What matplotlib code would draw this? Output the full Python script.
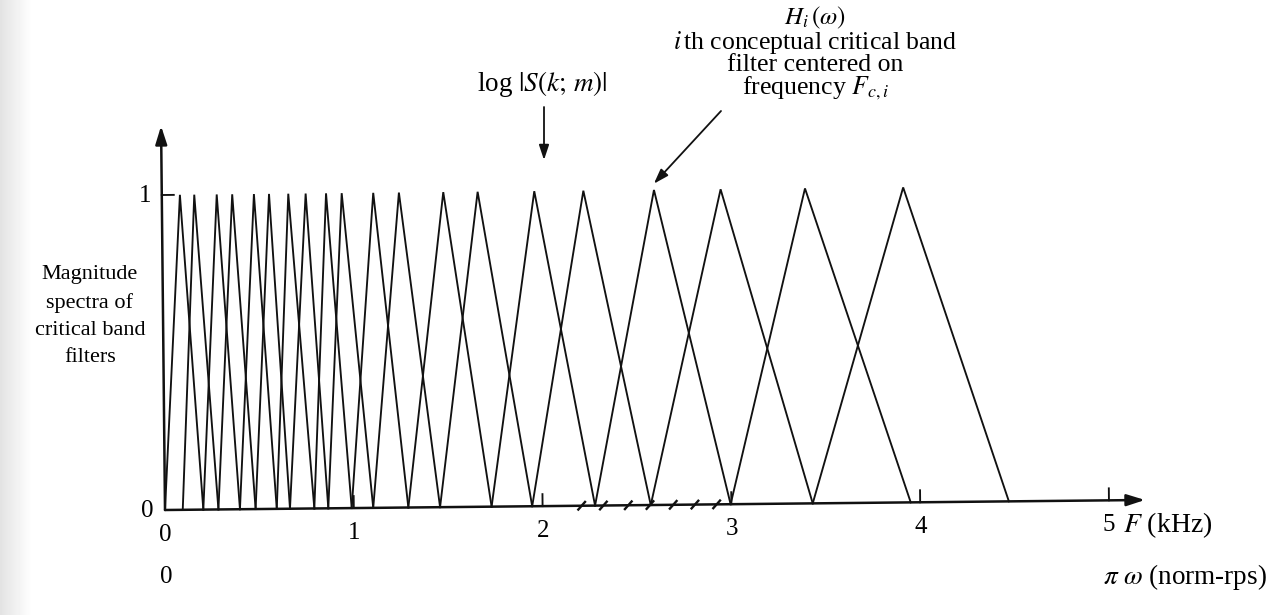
import matplotlib
matplotlib.use("Agg")
import matplotlib.pyplot as plt
import numpy as np
from matplotlib.transforms import Affine2D

plt.rcParams['font.family'] = ['Liberation Serif', 'DejaVu Serif']
plt.rcParams['mathtext.fontset'] = 'stix'

# Centre frequencies (kHz) of the critical-band filters H_i
center_khz = [0.096, 0.172, 0.291, 0.373, 0.488, 0.568, 0.670, 0.762, 0.870, 0.953,
              1.120, 1.256, 1.491, 1.673, 1.973, 2.233, 2.607, 2.960, 3.407, 3.927]
# Zero points (kHz): filter i rises from edge_khz[i] and falls to edge_khz[i + 2]
edge_khz = [0.0, 0.094, 0.203, 0.283, 0.397, 0.480, 0.592, 0.662, 0.791, 0.865,
            0.989, 1.103, 1.289, 1.457, 1.730, 1.945, 2.278, 2.573, 2.996, 3.431,
            3.950, 4.470]
peak_gain = 1.0
# DFT bins of log|S(k; m)| marked on the frequency axis (kHz)
bin_khz = [2.207, 2.322, 2.454, 2.569, 2.692, 2.807, 2.922]
freq_ticks = [0, 1, 2, 3, 4, 5]
gain_ticks = [0, 1]

W, H = 1281, 615
X0, SX = 165.0, 188.8      # pixel column of 0 kHz, pixels per kHz
Y0, SY = 510.0, 315.0      # pixel row of zero gain, pixels per unit gain
TILT = 0.586               # slight counter-clockwise tilt of the plotted frame (deg)


def px_x(p):
    return (p - X0) / SX


def px_y(p):
    return (Y0 - p) / SY


fig = plt.figure(figsize=(W / 100, H / 100), dpi=100)

# faint shading along the left margin of the page
shade = np.clip(0.89 + 0.0035 * np.arange(32), 0, 1.0)
fig.figimage(np.tile(shade, (H, 1)), xo=0, yo=0, cmap='gray', vmin=0, vmax=1,
             zorder=-5)

ax = fig.add_axes([0, 0, 1, 1])
ax.set_xlim(px_x(0), px_x(W))
ax.set_ylim(px_y(H), px_y(0))
ax.axis('off')

T = ax.transData + Affine2D().rotate_deg_around(X0, H - Y0, TILT)

lw = 1.35
ink = '#111111'

# triangular filters
for i, c in enumerate(center_khz):
    ax.plot([edge_khz[i], c, edge_khz[i + 2]], [0, peak_gain, 0], transform=T,
            color=ink, lw=lw, solid_joinstyle='miter')

# axes with arrow heads
arrow = dict(arrowstyle='-|>,head_length=1.1,head_width=0.35', color=ink,
             lw=1.8, shrinkA=0, shrinkB=0)
ax.annotate('', xy=(px_x(1145), 0), xytext=(0, 0), xycoords=T, textcoords=T,
            arrowprops=arrow)
ax.annotate('', xy=(0, px_y(126)), xytext=(0, 0), xycoords=T, textcoords=T,
            arrowprops=arrow)

# frequency ticks and labels
tick_h = 12 / SY
for t in freq_ticks[1:]:
    ax.plot([t, t], [0, tick_h], color=ink, lw=lw, transform=T)
for t in freq_ticks:
    ax.text(t, -0.079, f'{t:g}', ha='center', va='center', fontsize=18, transform=T)
ax.text(px_x(1123), -0.079, r'$F$ (kHz)', ha='left', va='center', fontsize=20,
        transform=T)
ax.text(0.005, px_y(577), '0', ha='center', va='center', fontsize=18)
ax.text(px_x(1103), px_y(577), r'$\pi\ \omega$ (norm-rps)', ha='left',
        va='center', fontsize=19.5)

# gain ticks and labels
ax.plot([0, 12 / SX], [peak_gain, peak_gain], color=ink, lw=lw, transform=T)
ax.text(px_x(145), px_y(196), f'{gain_ticks[1]:g}', ha='center', va='center', fontsize=18)
ax.text(px_x(147), px_y(511), f'{gain_ticks[0]:g}', ha='center', va='center', fontsize=18)

# DFT bin marks
for b in bin_khz:
    ax.plot([b - 0.018, b + 0.018], [-0.012, 0.012], color=ink, lw=1.7, transform=T)

# side label
ax.text(px_x(90), px_y(316), 'Magnitude\nspectra of\ncritical band\nfilters',
        ha='center', va='center', fontsize=16, linespacing=1.6)

# spectrum annotation
ax.text(px_x(542), px_y(84), r'log $|S(k;\,m)|$', ha='center', va='center',
        fontsize=19.5)
ax.annotate('', xy=(px_x(544), px_y(160)), xytext=(px_x(544), px_y(107)),
            arrowprops=dict(arrowstyle='-|>,head_length=0.9,head_width=0.3',
                            color=ink, lw=1.3, shrinkA=0, shrinkB=0))

# filter annotation
cx = px_x(815)
ax.text(cx, px_y(18), r'$H_i\,(\omega)$', ha='center', va='center', fontsize=18)
ax.text(cx, px_y(42), r'$i\,$th conceptual critical band', ha='center',
        va='center', fontsize=18.5)
ax.text(cx, px_y(65), 'filter centered on', ha='center', va='center', fontsize=18.5)
ax.text(cx, px_y(88), r'frequency $F_{c,i}$', ha='center', va='center', fontsize=18.5)
ax.annotate('', xy=(center_khz[16], peak_gain + 0.02), xytext=(px_x(721), px_y(111)),
            xycoords=T, textcoords=ax.transData,
            arrowprops=dict(arrowstyle='-|>,head_length=0.9,head_width=0.3',
                            color=ink, lw=1.3, shrinkA=0, shrinkB=0))

fig.savefig('out.png', dpi=100)
